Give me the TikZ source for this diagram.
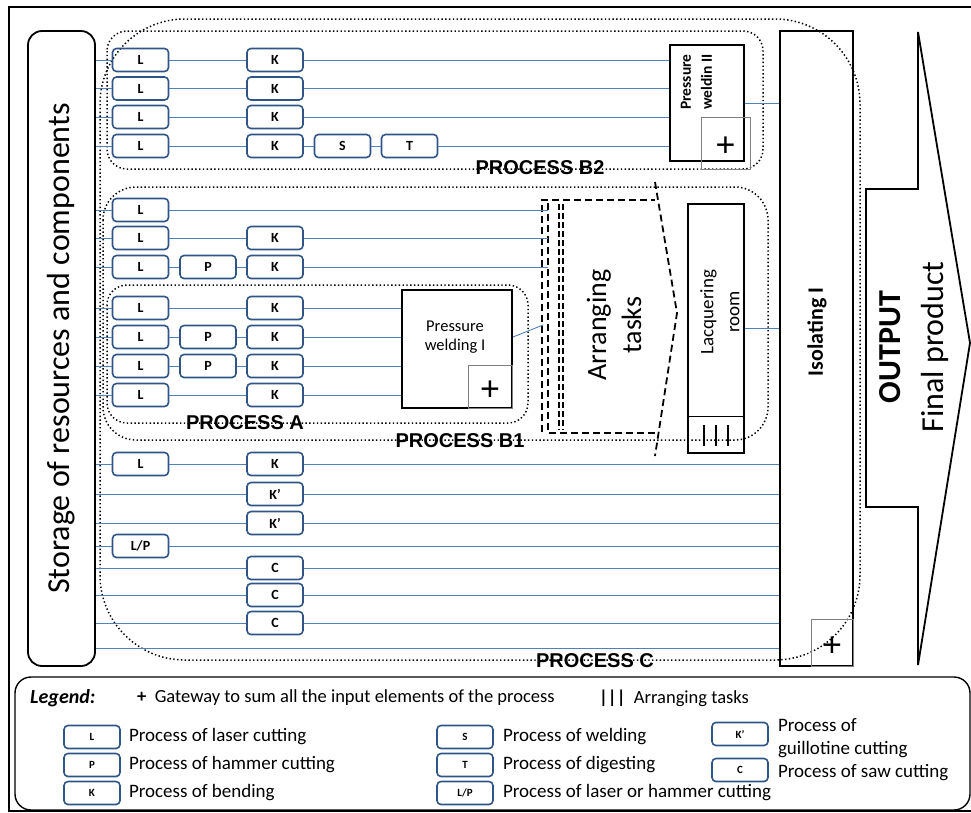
\documentclass[tikz,border=0pt]{standalone}
\usepackage{fontspec}
\setmainfont{Carlito}
\newfontfamily\labelfont{Liberation Sans}
\usepackage{xcolor}
\usepackage{tikz}
\usetikzlibrary{calc}

\definecolor{boxblue}{RGB}{47,85,135}
\definecolor{lineblue}{RGB}{79,129,189}

\begin{document}
\begin{tikzpicture}[x=1pt, y=-1pt,
  procbox/.style={draw=boxblue, line width=1.6pt, rounded corners=4pt, minimum width=56pt, minimum height=23pt, inner sep=0pt, font=\fontsize{14}{14}\selectfont\bfseries},
  legbox/.style={procbox, font=\fontsize{11}{11}\selectfont\bfseries},
  flow/.style={draw=lineblue, line width=0.9pt},
  dotregion/.style={draw, line width=1.5pt, dash pattern=on 1.4pt off 2.4pt},
  taskdash/.style={draw, line width=1.8pt, dash pattern=on 7pt off 4pt},
  heavybox/.style={draw, line width=2pt, minimum width=#1},
  sumbox/.style={draw=gray, line width=0.8pt, inner sep=0pt,
    label={[inner sep=0pt, yshift=-4pt, font=\labelfont\fontsize{34}{34}\selectfont]center:+}},
  proclabel/.style={font=\labelfont\fontsize{20}{20}\selectfont\bfseries, inner sep=0pt},
  legtext/.style={anchor=west, inner sep=0pt, align=left, font=\fontsize{19}{23}\selectfont}
]
  \useasboundingbox (0,0) rectangle (971,812);

  % ----- Frame and storage -----
  \draw[line width=1.8pt] (9,7) rectangle (990,811);
  \node[draw, line width=1.8pt, rounded corners=14pt, minimum width=67pt, minimum height=635pt] (store) at (61.5,348.5) {};
  \node[rotate=90, font=\fontsize{32}{32}\selectfont] at (store) {Storage of resources and components};

  % ----- Process regions (dotted) -----
  \draw[dotregion, rounded corners=85pt] (100,19) rectangle (860,660);
  \draw[dotregion, rounded corners=20pt] (107,31) rectangle (763,169);
  \draw[dotregion, rounded corners=33pt] (103,187) rectangle (768,440);
  \draw[dotregion, rounded corners=20pt] (107,285) rectangle (528,423);
  \node[proclabel] at (540,168) {PROCESS B2};
  \node[proclabel] at (460,441) {PROCESS B1};
  \node[proclabel] at (245,423) {PROCESS A};
  \node[proclabel] at (595,661) {PROCESS C};

  % ----- Isolating and output -----
  \node[heavybox=73pt, minimum height=635pt] (iso) at (816.5,348.5) {};
  \node[rotate=90, font=\fontsize{22}{22}\selectfont\bfseries] at (817,332) {Isolating I};
  \node[sumbox, minimum width=42pt, minimum height=47pt] (isosum) at (832,642.5) {};
  \draw[line width=1.8pt] (918,32) -- (970,343) -- (918,665) -- (918,507) -- (866,507) -- (866,189) -- (918,189) -- cycle;
  \node[rotate=90, font=\fontsize{32}{32}\selectfont\bfseries] (outlbl) at (890,347) {OUTPUT};
  \node[rotate=90, font=\fontsize{32}{32}\selectfont] (finlbl) at (935,347) {Final product};

  % ----- Process B2 -----
  \node[heavybox=74pt, minimum height=116pt] (pw2) at (707,103) {};
  \node[rotate=90, align=center, font=\fontsize{15.5}{21}\selectfont\bfseries] at (696.5,82) {Pressure\\weldin II};
  \node[sumbox, minimum width=49pt, minimum height=52pt] (pw2sum) at (725.5,143) {};
  \foreach \i/\y in {1/60,2/88.5,3/117,4/146}{
    \node[procbox] (b2L\i) at (140.5,\y) {L};
    \node[procbox] (b2K\i) at (275,\y) {K};
  }
  \node[procbox] (b2S) at (342.5,146) {S};
  \node[procbox] (b2T) at (409.5,146) {T};
  \foreach \i in {1,2,3}
    \draw[flow] (store.east |- b2L\i) -- (b2L\i) -- (b2K\i) -- (pw2.west |- b2K\i);
  \draw[flow] (store.east |- b2L4) -- (b2L4) -- (b2K4) -- (b2S) -- (b2T) -- (pw2.west |- b2T);
  \draw[flow] (pw2.east) -- (iso.west |- pw2.east);

  % ----- Process B1 -----
  \coordinate (arrW) at (548,316);
  \coordinate (arrIn) at (543,325);
  \draw[taskdash] (542,432) -- (542,200) -- (655,200);
  \draw[taskdash] (548,203) -- (548,433) -- (655,433);
  \draw[taskdash, dash pattern=on 6pt off 3pt] (559,204) -- (559,430);
  \draw[taskdash, dash pattern=on 6pt off 3pt] (563,204) -- (563,430);
  \draw[taskdash] (655,182) -- (677,313) -- (655,456);
  \node[rotate=90, align=center, font=\fontsize{28}{35}\selectfont] (arrtext) at (614,325) {Arranging\\tasks};
  \node[procbox] (b1L1) at (140.5,210) {L};
  \node[procbox] (b1L2) at (140.5,238) {L};
  \node[procbox] (b1K2) at (275,238) {K};
  \node[procbox] (b1L3) at (140.5,267) {L};
  \node[procbox] (b1P3) at (208,267) {P};
  \node[procbox] (b1K3) at (275,267) {K};
  \draw[flow] (store.east |- b1L1) -- (b1L1) -- (arrW |- b1L1);
  \draw[flow] (store.east |- b1L2) -- (b1L2) -- (b1K2) -- (arrW |- b1K2);
  \draw[flow] (store.east |- b1L3) -- (b1L3) -- (b1P3) -- (b1K3) -- (arrW |- b1K3);

  \node[heavybox=56pt, minimum height=249pt] (lacq) at (716,328.5) {};
  \draw[line width=0.8pt] (lacq.west |- 0,416) -- (lacq.east |- 0,416);
  \foreach \x in {704,716,728}
    \draw[line width=2.5pt] (\x,425) -- (\x,446);
  \node[rotate=90, align=center, font=\fontsize{19}{26}\selectfont] at (720,312) {Lacquering\\room};
  \draw[flow] (lacq.east) -- (iso.west |- lacq.east);

  % ----- Process A -----
  \node[heavybox=110pt, minimum height=118pt] (pw1) at (457,349) {};
  \node[align=center, font=\fontsize{16.5}{19.5}\selectfont] at (455,337) {Pressure\\welding I};
  \node[sumbox, minimum width=44pt, minimum height=43pt] (pw1sum) at (490,386.5) {};
  \node[procbox] (aL1) at (140.5,308) {L};
  \node[procbox] (aK1) at (275,308) {K};
  \node[procbox] (aL2) at (140.5,337) {L};
  \node[procbox] (aP2) at (208,337) {P};
  \node[procbox] (aK2) at (275,337) {K};
  \node[procbox] (aL3) at (140.5,366) {L};
  \node[procbox] (aP3) at (208,366) {P};
  \node[procbox] (aK3) at (275,366) {K};
  \node[procbox] (aL4) at (140.5,395) {L};
  \node[procbox] (aK4) at (275,395) {K};
  \draw[flow] (store.east |- aL1) -- (aL1) -- (aK1) -- (pw1.west |- aK1);
  \draw[flow] (store.east |- aL2) -- (aL2) -- (aP2) -- (aK2) -- (pw1.west |- aK2);
  \draw[flow] (store.east |- aL3) -- (aL3) -- (aP3) -- (aK3) -- (pw1.west |- aK3);
  \draw[flow] (store.east |- aL4) -- (aL4) -- (aK4) -- (pw1.west |- aK4);
  \draw[flow] ($(pw1.north east)!0.4!(pw1.south east)$) -- (arrIn);

  % ----- Process C -----
  \node[procbox] (cL1) at (140.5,464) {L};
  \node[procbox] (cK1) at (275,464) {K};
  \node[procbox] (cK2) at (275,494) {K’};
  \node[procbox] (cK3) at (275,523) {K’};
  \node[procbox] (cLP4) at (140.5,546) {L/P};
  \node[procbox] (cC5) at (275,568) {C};
  \node[procbox] (cC6) at (275,595) {C};
  \node[procbox] (cC7) at (275,623) {C};
  \draw[flow] (store.east |- cL1) -- (cL1) -- (cK1) -- (iso.west |- cK1);
  \foreach \n in {cK2,cK3,cC5,cC6,cC7}
    \draw[flow] (store.east |- \n) -- (\n) -- (iso.west |- \n);
  \draw[flow] (store.east |- cLP4) -- (cLP4) -- (iso.west |- cLP4);
  \draw[flow] (store.east |- 0,648) -- (iso.west |- 0,648);

  % ----- Legend -----
  \draw[line width=1.4pt, rounded corners=16pt] (15,677) rectangle (970,810);
  \node[anchor=west, inner sep=0pt, font=\fontsize{20}{20}\selectfont\bfseries\itshape] (legtitle) at (30,698) {Legend:};
  \node[anchor=west, inner sep=0pt, font=\fontsize{18.5}{18.5}\selectfont] (leggate) at (137,698) {\textbf{+}\ \ Gateway to sum all the input elements of the process};
  \node[anchor=west, inner sep=0pt, font=\fontsize{18.5}{18.5}\selectfont] (legarr) at (599,698) {\textbf{|||}\ \ Arranging tasks};
  \node[legbox] (lgL) at (92,737) {L};
  \node[legbox] (lgP) at (92,765) {P};
  \node[legbox] (lgK) at (92,793) {K};
  \node[legbox] (lgS) at (465,737) {S};
  \node[legbox] (lgT) at (465,765) {T};
  \node[legbox] (lgLP) at (465,793) {L/P};
  \node[legbox] (lgKp) at (740,734) {K’};
  \node[legbox] (lgC) at (740,770) {C};
  \node[legtext] at ([xshift=8pt]lgL.east) {Process of laser cutting};
  \node[legtext] at ([xshift=8pt]lgP.east) {Process of hammer cutting};
  \node[legtext] at ([xshift=8pt]lgK.east) {Process of bending};
  \node[legtext] at ([xshift=9pt]lgS.east) {Process of welding};
  \node[legtext] at ([xshift=9pt]lgT.east) {Process of digesting};
  \node[legtext] at ([xshift=9pt]lgLP.east) {Process of laser or hammer cutting};
  \node[legtext] at ([xshift=9pt,yshift=-4pt]lgKp.east) {Process of\\guillotine cutting};
  \node[legtext] at ([xshift=9pt,yshift=-3pt]lgC.east) {Process of saw cutting};
\end{tikzpicture}
\end{document}
